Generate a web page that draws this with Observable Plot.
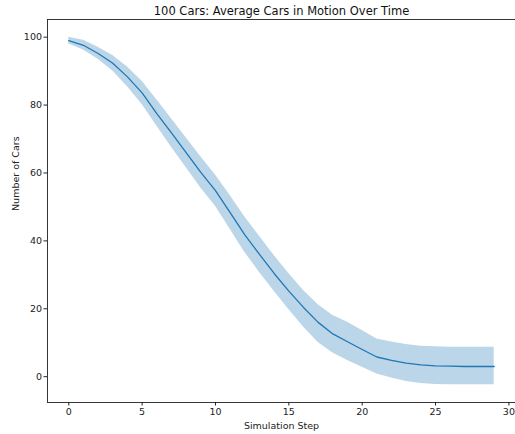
<!DOCTYPE html>
<html>
<head>
<meta charset="utf-8">
<script src="https://cdn.jsdelivr.net/npm/d3@7"></script>
<script src="https://cdn.jsdelivr.net/npm/@observablehq/plot@0.6"></script>
<style>
  html, body { margin: 0; padding: 0; background: #fff; }
  svg { display: block; }
</style>
</head>
<body>
<div id="chart"></div>
<script>
const titleText = "100 Cars: Average Cars in Motion Over Time";
const xLabel = "Simulation Step";
const yLabel = "Number of Cars";

const steps = d3.range(0, 30);
const meanCars = [99.0, 97.6, 95.2, 92.3, 88.3, 83.6, 77.5, 71.8, 66.0, 60.2,
                  54.8, 48.3, 41.8, 36.0, 30.4, 25.2, 20.4, 16.0, 12.6, 10.3,
                  8.0, 5.8, 4.8, 4.0, 3.5, 3.2, 3.1, 3.0, 3.0, 3.0];
const lowerCars = [98.0, 96.2, 93.5, 90.0, 85.4, 80.2, 73.8, 67.6, 61.6, 55.6,
                   50.2, 43.4, 36.6, 30.7, 25.2, 19.8, 14.6, 10.1, 7.0, 4.8,
                   2.8, 0.8, -0.4, -1.4, -2.0, -2.3, -2.4, -2.4, -2.4, -2.4];
const upperCars = [100.0, 99.1, 97.0, 94.6, 91.2, 87.0, 81.6, 76.0, 70.4, 64.8,
                   59.4, 53.4, 47.0, 41.4, 35.7, 30.4, 25.4, 21.2, 18.0, 16.0,
                   13.6, 11.1, 10.2, 9.5, 9.0, 8.8, 8.7, 8.7, 8.7, 8.7];
const xTicks = [0, 5, 10, 15, 20, 25, 30];
const yTicks = [0, 20, 40, 60, 80, 100];

const data = steps.map((s, i) => ({step: s, mean: meanCars[i], lo: lowerCars[i], hi: upperCars[i]}));

const blue = "#1f77b4";

const chart = Plot.plot({
  width: 515,
  height: 434,
  marginLeft: 47,
  marginRight: 0,
  marginTop: 19,
  marginBottom: 32,
  style: {fontFamily: "DejaVu Sans", fontSize: "9.5px", color: "#222", background: "#fff"},
  x: {domain: [-1.45, 30.45]},
  y: {domain: [-7.6, 105.2]},
  marks: [
    Plot.areaY(data, {x: "step", y1: "lo", y2: "hi", fill: blue, fillOpacity: 0.3}),
    Plot.lineY(data, {x: "step", y: "mean", stroke: blue, strokeWidth: 1.3}),
    Plot.frame({stroke: "#222", strokeWidth: 0.9}),
    Plot.axisX({ticks: xTicks, tickSize: 3.5, tickPadding: 2, label: null, tickFormat: d => String(d)}),
    Plot.axisY({ticks: yTicks, tickSize: 3.5, tickPadding: 2, label: null, tickFormat: d => String(d)}),
    Plot.text([xLabel], {frameAnchor: "bottom", lineAnchor: "middle", dy: 23, text: d => d, fontSize: 9.5, fill: "#222"}),
    Plot.text([yLabel], {frameAnchor: "left", dx: -32, rotate: -90, text: d => d, fontSize: 9.5, fill: "#222"}),
    Plot.text([titleText], {frameAnchor: "top", lineAnchor: "middle", dy: -8, text: d => d, fontSize: 11.5, fill: "#111"})
  ]
});
document.getElementById("chart").appendChild(chart);
</script>
</body>
</html>
